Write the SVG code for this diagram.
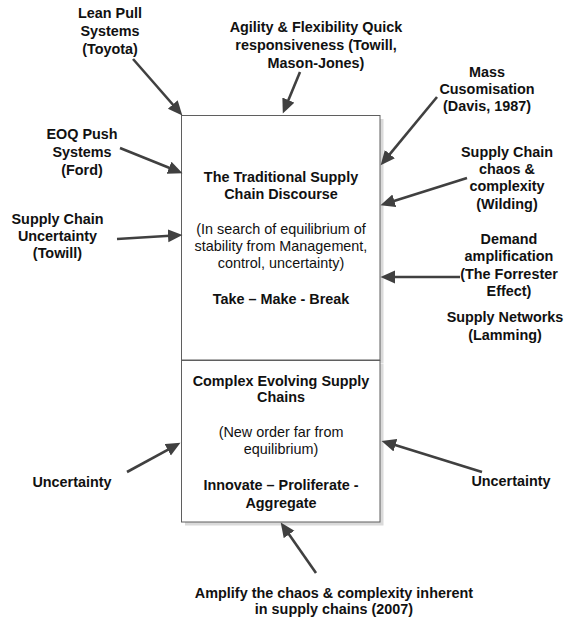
<svg xmlns="http://www.w3.org/2000/svg" width="565" height="623" viewBox="0 0 565 623">
<style>
text{font-family:"Liberation Sans",Arial,sans-serif;font-size:14.4px;fill:#111;text-anchor:middle}
.b{font-weight:bold}
.box{fill:#fff;stroke:#5f5f5f;stroke-width:1}
.shadow{fill:#dadada}
.arr{stroke:#404040;stroke-width:2.6;fill:none;marker-end:url(#ah)}
</style>
<defs>
<marker id="ah" markerUnits="userSpaceOnUse" markerWidth="16" markerHeight="14" refX="2" refY="6.5" orient="auto">
<path d="M0,0 L14.5,6.5 L0,13 z" fill="#404040"/>
</marker>
</defs>
<rect width="565" height="623" fill="#fff"/>
<g id="traditional">
<rect class="shadow" x="185" y="119" width="198.5" height="244.5"/>
<rect class="box" x="181.5" y="115.5" width="198.5" height="244.5"/>
<text class="b" x="281" y="182">The Traditional Supply</text>
<text class="b" x="281" y="199">Chain Discourse</text>
<text x="281" y="234">(In search of equilibrium of</text>
<text x="281" y="251">stability from Management,</text>
<text x="281" y="268">control, uncertainty)</text>
<text class="b" x="281" y="304">Take – Make - Break</text>
</g>
<g id="complex">
<rect class="shadow" x="185" y="364" width="198.5" height="161.5"/>
<rect class="box" x="181.5" y="360.5" width="198.5" height="161.5"/>
<text class="b" x="281" y="386">Complex Evolving Supply</text>
<text class="b" x="281" y="402">Chains</text>
<text x="281" y="437">(New order far from</text>
<text x="281" y="454">equilibrium)</text>
<text class="b" x="281" y="490">Innovate – Proliferate -</text>
<text class="b" x="281" y="508">Aggregate</text>
</g>
<g id="lean"><text class="b" x="110" y="18">Lean Pull</text><text class="b" x="110" y="36">Systems</text><text class="b" x="110" y="54">(Toyota)</text></g>
<g id="eoq"><text class="b" x="82" y="139">EOQ Push</text><text class="b" x="82" y="157">Systems</text><text class="b" x="82" y="175">(Ford)</text></g>
<g id="scu"><text class="b" x="57.5" y="224">Supply Chain</text><text class="b" x="57.5" y="241">Uncertainty</text><text class="b" x="57.5" y="258">(Towill)</text></g>
<g id="agility"><text class="b" x="316" y="32">Agility &amp; Flexibility Quick</text><text class="b" x="316" y="50">responsiveness (Towill,</text><text class="b" x="316" y="68">Mason-Jones)</text></g>
<g id="mass"><text class="b" x="487" y="77">Mass</text><text class="b" x="487" y="94">Cusomisation</text><text class="b" x="487" y="111">(Davis, 1987)</text></g>
<g id="chaos"><text class="b" x="507" y="157">Supply Chain</text><text class="b" x="507" y="174">chaos &amp;</text><text class="b" x="507" y="191">complexity</text><text class="b" x="507" y="209">(Wilding)</text></g>
<g id="demand"><text class="b" x="509" y="244">Demand</text><text class="b" x="509" y="261">amplification</text><text class="b" x="509" y="279">(The Forrester</text><text class="b" x="509" y="296">Effect)</text></g>
<g id="networks"><text class="b" x="505" y="322">Supply Networks</text><text class="b" x="505" y="340">(Lamming)</text></g>
<g id="unc-left"><text class="b" x="72" y="487">Uncertainty</text></g>
<g id="unc-right"><text class="b" x="511" y="486">Uncertainty</text></g>
<g id="amplify"><text class="b" x="334" y="598">Amplify the chaos &amp; complexity inherent</text><text class="b" x="334" y="614">in supply chains (2007)</text></g>
<g id="connectors">
<line class="arr" x1="133" y1="59" x2="174.1" y2="106"/>
<line class="arr" x1="120" y1="148" x2="170.9" y2="168.5"/>
<line class="arr" x1="117" y1="239" x2="170" y2="235.7"/>
<line class="arr" x1="300" y1="72" x2="287.6" y2="101.9"/>
<line class="arr" x1="437" y1="97" x2="388.6" y2="155.7"/>
<line class="arr" x1="467" y1="178" x2="392.4" y2="201.4"/>
<line class="arr" x1="460" y1="277" x2="393" y2="277"/>
<line class="arr" x1="127" y1="472" x2="169.5" y2="448.8"/>
<line class="arr" x1="482" y1="472" x2="393.5" y2="444.6"/>
<line class="arr" x1="316" y1="573" x2="287.9" y2="532.8"/>
</g>
</svg>
